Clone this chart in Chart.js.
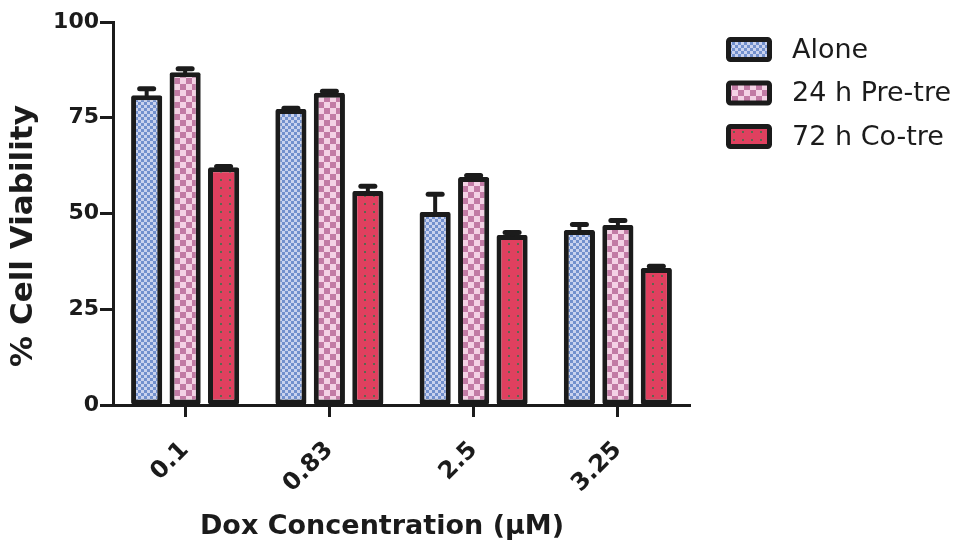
<!DOCTYPE html>
<html>
<head>
<meta charset="utf-8">
<script src="https://cdn.jsdelivr.net/npm/chart.js@4.4.1/dist/chart.umd.min.js"></script>
<style>
  html, body { margin: 0; padding: 0; background: #fff; }
  #wrap { width: 963px; height: 550px; position: relative; }
</style>
</head>
<body>
<div id="wrap"><canvas id="chart"></canvas></div>
<script>
const concentrations = ['0.1', '0.83', '2.5', '3.25'];
const seriesNames = ['Alone', '24 h Pre-tre', '72 h Co-tre'];
const aloneMean = [80.9, 77.3, 50.4, 45.7];
const aloneErr = [1.7, 0.2, 4.6, 1.4];
const preMean = [86.9, 81.5, 59.5, 47.0];
const preErr = [0.9, 0.4, 0.4, 1.2];
const coMean = [62.1, 55.9, 44.4, 35.8];
const coErr = [0.2, 1.2, 0.65, 0.4];
const yTicks = [0, 25, 50, 75, 100];
const xTitle = 'Dox Concentration (\u03bcM)';
const yTitle = '% Cell Viability';

const INK = '#1b1b1b';
const FONT = "'DejaVu Sans', sans-serif";

function makePattern(w, h, paint) {
  const c = document.createElement('canvas');
  c.width = w;
  c.height = h;
  const g = c.getContext('2d');
  paint(g);
  return g.createPattern(c, 'repeat');
}

// fine blue checks
const bluePat = makePattern(6, 6, (g) => {
  g.fillStyle = '#c9d2ee';
  g.fillRect(0, 0, 6, 6);
  g.fillStyle = '#7290cd';
  g.fillRect(0, 0, 3, 3);
  g.fillRect(3, 3, 3, 3);
});

// coarse pink checks
const pinkPat = makePattern(12, 12, (g) => {
  g.fillStyle = '#f4d2e5';
  g.fillRect(0, 0, 12, 12);
  g.fillStyle = '#c27ba5';
  g.fillRect(0, 0, 6, 6);
  g.fillRect(6, 6, 6, 6);
});

// red with small grey dots
const redPat = makePattern(9, 8, (g) => {
  g.fillStyle = '#e0405f';
  g.fillRect(0, 0, 9, 8);
  g.fillStyle = '#5f6650';
  g.fillRect(4, 3, 2, 2);
});

const errorBars = {
  id: 'errorBars',
  afterDatasetsDraw(chart) {
    const { ctx } = chart;
    const y = chart.scales.y;
    chart.data.datasets.forEach((ds, i) => {
      const meta = chart.getDatasetMeta(i);
      meta.data.forEach((bar, j) => {
        const top = y.getPixelForValue(ds.data[j] + ds.errors[j]);
        ctx.save();
        ctx.strokeStyle = INK;
        ctx.lineWidth = 4;
        ctx.beginPath();
        ctx.moveTo(bar.x, bar.y + 2);
        ctx.lineTo(bar.x, top);
        ctx.stroke();
        ctx.lineWidth = 5;
        ctx.lineCap = 'round';
        ctx.beginPath();
        ctx.moveTo(bar.x - 7, top);
        ctx.lineTo(bar.x + 7, top);
        ctx.stroke();
        ctx.restore();
      });
    });
  }
};

const boxLegend = {
  id: 'boxLegend',
  afterDraw(chart) {
    const { ctx, chartArea } = chart;
    const left = chartArea.right + 36;
    chart.data.datasets.forEach((ds, i) => {
      const cy = chartArea.top + 27.5 + i * 43.5;
      ctx.save();
      ctx.fillStyle = ds.backgroundColor;
      ctx.strokeStyle = INK;
      ctx.lineWidth = 5;
      ctx.lineJoin = 'round';
      ctx.beginPath();
      ctx.roundRect(left + 2.5, cy - 10, 41, 20, 2);
      ctx.fill();
      ctx.stroke();
      ctx.fillStyle = INK;
      ctx.font = `27px ${FONT}`;
      ctx.textBaseline = 'middle';
      ctx.fillText(ds.label, left + 66, cy + 1);
      ctx.restore();
    });
  }
};

const axisTitles = {
  id: 'axisTitles',
  afterDraw(chart) {
    const { ctx, chartArea } = chart;
    ctx.save();
    ctx.fillStyle = INK;
    ctx.textAlign = 'center';
    ctx.textBaseline = 'middle';
    ctx.font = `bold 27px ${FONT}`;
    ctx.fillText(xTitle, chartArea.left + 269, chartArea.bottom + 122);
    ctx.translate(24, chartArea.top + 214);
    ctx.rotate(-Math.PI / 2);
    ctx.font = `bold 31px ${FONT}`;
    ctx.fillText(yTitle, 0, 0);
    ctx.restore();
  }
};

const barStyle = {
  borderColor: INK,
  borderWidth: 5,
  borderSkipped: false,
  borderRadius: 2,
  categoryPercentage: 0.8,
  barPercentage: 0.81,
};

new Chart(document.getElementById('chart'), {
  type: 'bar',
  data: {
    labels: concentrations,
    datasets: [
      { label: seriesNames[0], data: aloneMean, errors: aloneErr, backgroundColor: bluePat, ...barStyle },
      { label: seriesNames[1], data: preMean, errors: preErr, backgroundColor: pinkPat, ...barStyle },
      { label: seriesNames[2], data: coMean, errors: coErr, backgroundColor: redPat, ...barStyle },
    ],
  },
  options: {
    responsive: true,
    maintainAspectRatio: false,
    animation: false,
    layout: { padding: { top: 22, right: 273, bottom: 0, left: 0 } },
    plugins: {
      legend: { display: false },
      tooltip: { enabled: false },
    },
    scales: {
      x: {
        grid: { display: true, drawOnChartArea: false, offset: false, tickLength: 12, tickWidth: 3, tickColor: INK },
        border: { display: true, color: INK, width: 3 },
        ticks: {
          color: INK,
          font: { family: FONT, size: 24, weight: 'bold' },
          minRotation: 45,
          maxRotation: 45,
          autoSkip: false,
          padding: 19,
        },
        afterFit(scale) { scale.height = 145; },
      },
      y: {
        min: 0,
        max: 100,
        afterBuildTicks(scale) { scale.ticks = yTicks.map(v => ({ value: v })); },
        grid: { drawOnChartArea: false, tickLength: 13, tickWidth: 3, tickColor: INK },
        border: { color: INK, width: 3 },
        ticks: { color: INK, font: { family: FONT, size: 22, weight: 'bold' }, padding: 1 },
        afterFit(scale) { scale.width = 113; },
      },
    },
  },
  plugins: [errorBars, boxLegend, axisTitles],
});
</script>
</body>
</html>
